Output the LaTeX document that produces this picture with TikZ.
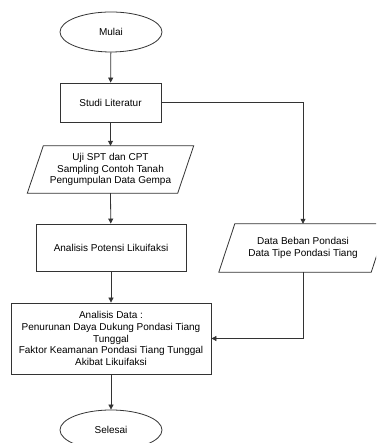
\documentclass[tikz,border=0pt]{standalone}
\usepackage{fontspec}
\setmainfont{Liberation Sans}
\usetikzlibrary{shapes.geometric,arrows.meta,calc}
\definecolor{ln}{HTML}{333333}
\begin{document}
\begin{tikzpicture}[x=1pt,y=1pt,
  every node/.style={font=\fontsize{10}{11.7}\selectfont, text=black, inner sep=0pt},
  term/.style={ellipse, draw=ln, line width=0.8pt, minimum width=102pt, minimum height=40pt},
  proc/.style={rectangle, draw=ln, line width=0.8pt, align=center},
  iobox/.style={rectangle, align=center},
  conn/.style={draw=ln, line width=0.8pt, -{Triangle[length=5pt,width=5pt]}},
  plain/.style={draw=ln, line width=0.8pt}]
\clip (0,0) rectangle (376,443);
\fill[white] (0,0) rectangle (376,443);

\node[term] (mulai) at (111,411) {Mulai};
\node[proc, minimum width=101pt, minimum height=39pt] (studi) at (110.5,340.5) {Studi Literatur};
\node[iobox, minimum width=150pt, minimum height=47pt] (uji) at (110.5,273.5) {Uji SPT dan CPT\\Sampling Contoh Tanah\\Pengumpulan Data Gempa};
\draw[plain] ($(uji.south west)+(-8,0)$) -- ($(uji.north west)+(8,0)$) -- ($(uji.north east)+(8,0)$) -- ($(uji.south east)+(-8,0)$) -- cycle;
\node[proc, minimum width=150pt, minimum height=47pt] (apl) at (111,195.5) {Analisis Potensi Likuifaksi};
\node[iobox, minimum width=152pt, minimum height=48pt] (beban) at (303,195) {Data Beban Pondasi\\Data Tipe Pondasi Tiang};
\draw[plain] ($(beban.south west)+(-8,0)$) -- ($(beban.north west)+(8,0)$) -- ($(beban.north east)+(8,0)$) -- ($(beban.south east)+(-8,0)$) -- cycle;
\node[proc, minimum width=200pt, minimum height=71pt] (ad) at (111,104.5) {Analisis Data :\\Penurunan Daya Dukung Pondasi Tiang\\Tunggal\\Faktor Keamanan Pondasi Tiang Tunggal\\Akibat Likuifaksi};
\node[term] (selesai) at (111,13) {Selesai};

\draw[conn] (mulai) -- (studi);
\draw[conn] (studi) -- (uji.north);
\draw[conn] (uji.south) -- (apl);
\draw[conn] (apl) -- (ad);
\draw[conn] (ad) -- (selesai);
\draw[conn] (studi.east) -| (beban.north);
\draw[conn] (beban.south) |- (ad.east);
\end{tikzpicture}
\end{document}
